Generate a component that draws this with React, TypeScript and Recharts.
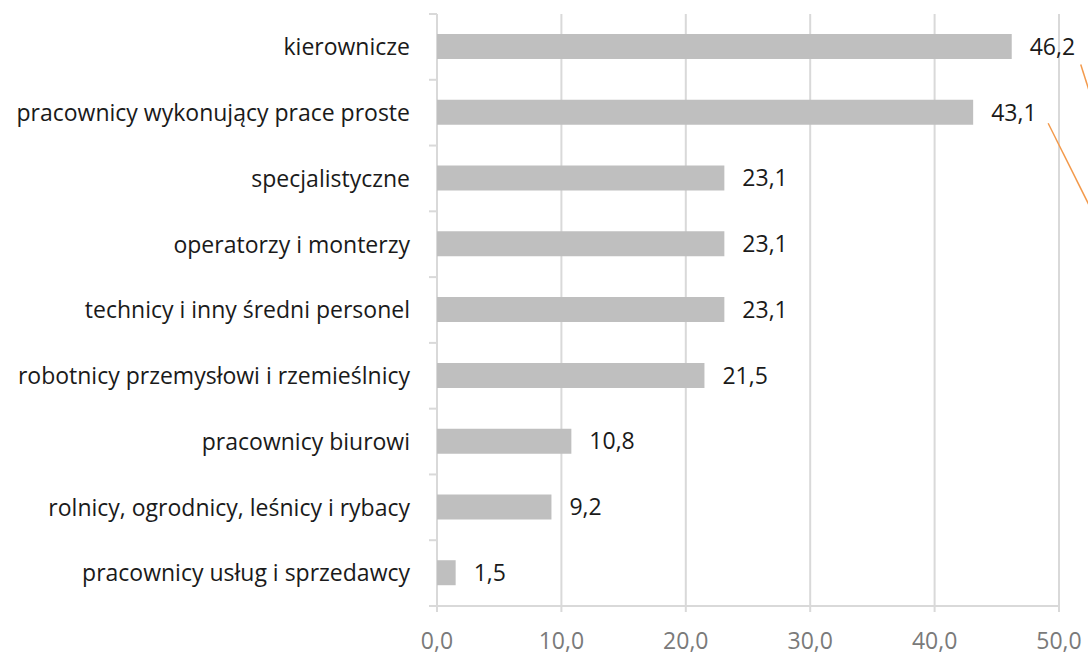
import React from "react";
import { BarChart, Bar, XAxis, YAxis, CartesianGrid, LabelList } from "recharts";

document.body.style.margin = "0";

const categories = [
  "kierownicze",
  "pracownicy wykonujący prace proste",
  "specjalistyczne",
  "operatorzy i monterzy",
  "technicy i inny średni personel",
  "robotnicy przemysłowi i rzemieślnicy",
  "pracownicy biurowi",
  "rolnicy, ogrodnicy, leśnicy i rybacy",
  "pracownicy usług i sprzedawcy",
];

const values = [46.2, 43.1, 23.1, 23.1, 23.1, 21.5, 10.8, 9.2, 1.5];

const xTicks = [0, 10, 20, 30, 40, 50];

const data = categories.map((name, i) => ({ name, value: values[i] }));

const fmt = (v: number) => v.toFixed(1).replace(".", ",");

const GRID = "#d9d9d9";
const ORANGE = "#f39a4c";
const LABEL_GAP = 27;

// category label + Excel-style tick mark between categories
const CategoryTick = (props: any) => {
  const { x, y, payload, index, visibleTicksCount } = props;
  const half = payload.offset ?? 0;
  const ax = x + LABEL_GAP;
  return (
    <g>
      <text x={x} y={y} dy="0.36em" textAnchor="end" fill="#1a1a1a" fontSize={23}>
        {payload.value}
      </text>
      <line x1={ax - 8} y1={y - half} x2={ax} y2={y - half} stroke={GRID} strokeWidth={2} />
      {index === visibleTicksCount - 1 && (
        <line x1={ax - 8} y1={y + half} x2={ax} y2={y + half} stroke={GRID} strokeWidth={2} />
      )}
    </g>
  );
};

// value label, plus the stray leader lines the two top labels carry in the original
const ValueLabel = (props: any) => {
  const { x, y, width, height, value, index } = props;
  const ex = x + width;
  const cy = y + height / 2;
  return (
    <g>
      <text x={ex + 18} y={cy} dy="0.36em" fill="#1a1a1a" fontSize={23}>
        {fmt(value)}
      </text>
      {index === 0 && (
        <line x1={ex + 69} y1={cy + 18} x2={ex + 77} y2={cy + 43} stroke={ORANGE} strokeWidth={1.5} />
      )}
      {index === 1 && (
        <line x1={ex + 75} y1={cy + 11} x2={ex + 118} y2={cy + 97} stroke={ORANGE} strokeWidth={1.5} />
      )}
    </g>
  );
};

export default function App() {
  return (
    <div style={{ fontFamily: "'Open Sans', sans-serif" }}>
      <BarChart
        width={1088}
        height={655}
        data={data}
        layout="vertical"
        margin={{ top: 14, right: 29, bottom: 0, left: 0 }}
      >
        <CartesianGrid horizontal={false} stroke={GRID} strokeWidth={2} />
        <XAxis
          type="number"
          domain={[0, 50]}
          ticks={xTicks}
          tickFormatter={fmt}
          height={49}
          stroke={GRID}
          strokeWidth={2}
          tickSize={6}
          tickMargin={21}
          tick={{ fill: "#7a7a7a", fontSize: 23 }}
        />
        <YAxis
          type="category"
          dataKey="name"
          width={437}
          axisLine={false}
          tickLine={false}
          tickSize={0}
          tickMargin={LABEL_GAP}
          tick={<CategoryTick />}
          interval={0}
        />
        <Bar dataKey="value" fill="#bfbfbf" barSize={25} isAnimationActive={false}>
          <LabelList dataKey="value" content={<ValueLabel />} />
        </Bar>
      </BarChart>
    </div>
  );
}
